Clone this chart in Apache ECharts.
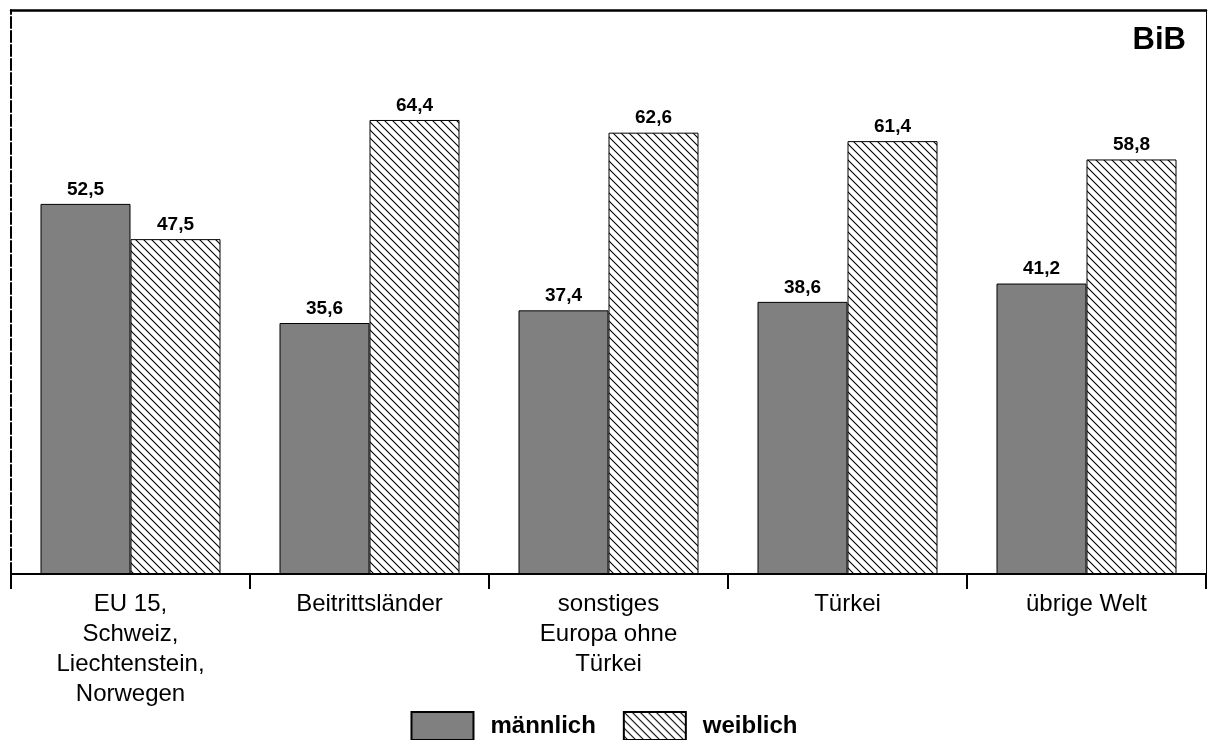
<!DOCTYPE html>
<html>
<head>
<meta charset="utf-8">
<script src="https://cdn.jsdelivr.net/npm/echarts@6/dist/echarts.min.js"></script>
<style>
  html, body { margin: 0; padding: 0; background: #fff; }
  #chart { width: 1208px; height: 740px; }
</style>
</head>
<body>
<div id="chart"></div>
<script>
// Herkunftsregionen und Anteile nach Geschlecht (in %)
const categories = [
  'EU 15,\nSchweiz,\nLiechtenstein,\nNorwegen',
  'Beitrittsländer',
  'sonstiges\nEuropa ohne\nTürkei',
  'Türkei',
  'übrige Welt'
];
const maleValues = [52.5, 35.6, 37.4, 38.6, 41.2];
const femaleValues = [47.5, 64.4, 62.6, 61.4, 58.8];
const seriesNames = ['männlich', 'weiblich'];

const FONT = 'Arial, "Liberation Sans", Helvetica, sans-serif';

// Diagonal hatch tile ("\" direction) for the female bars
function hatchPattern() {
  const s = 8;
  const c = document.createElement('canvas');
  c.width = s; c.height = s;
  const ctx = c.getContext('2d');
  ctx.fillStyle = '#fff';
  ctx.fillRect(0, 0, s, s);
  ctx.strokeStyle = '#000';
  ctx.lineWidth = 1.1;
  ctx.beginPath();
  for (const off of [-s, 0, s]) {
    ctx.moveTo(off - 1, -1);
    ctx.lineTo(off + s + 1, s + 1);
  }
  ctx.stroke();
  return { image: c, repeat: 'repeat' };
}

const chart = echarts.init(document.getElementById('chart'), null, { renderer: 'canvas' });

const valueLabel = {
  show: true,
  position: 'top',
  distance: 5,
  color: '#000',
  fontFamily: FONT,
  fontWeight: 'bold',
  fontSize: 19,
  formatter: p => String(p.value).replace('.', ',')
};

chart.setOption({
  animation: false,
  backgroundColor: '#fff',
  title: {
    text: 'BiB',
    right: 17,
    top: 20,
    textStyle: { fontFamily: FONT, fontWeight: 'bold', fontSize: 31, color: '#000' }
  },
  legend: {
    data: seriesNames,
    left: 'center',
    top: 711,
    padding: 0,
    icon: 'rect',
    itemWidth: 62,
    itemHeight: 28,
    itemGap: 27,
    textStyle: {
      fontFamily: FONT, fontWeight: 'bold', fontSize: 24, color: '#000',
      padding: [0, 0, 0, 12]
    }
  },
  grid: { left: 11, right: 2, top: 10, bottom: 166, containLabel: false },
  xAxis: [
    {
      type: 'category',
      data: categories,
      position: 'bottom',
      axisLine: { lineStyle: { color: '#000', width: 2 } },
      axisTick: { show: true, length: 15, lineStyle: { color: '#000', width: 2 } },
      axisLabel: {
        color: '#000', fontFamily: FONT, fontSize: 24, lineHeight: 30,
        margin: 15, interval: 0, align: 'center'
      }
    },
    {
      // top frame line
      type: 'category',
      data: categories,
      position: 'top',
      axisLine: { onZero: false, lineStyle: { color: '#000', width: 2.5 } },
      axisTick: { show: false },
      axisLabel: { show: false }
    }
  ],
  yAxis: [
    {
      type: 'value',
      min: 0,
      max: 80,
      interval: 10,
      position: 'left',
      axisLine: { show: true, onZero: false, lineStyle: { color: '#000', width: 2, type: [11, 3] } },
      axisTick: { show: false },
      axisLabel: { show: false },
      splitLine: { show: false }
    },
    {
      // right frame line
      type: 'value',
      min: 0,
      max: 80,
      position: 'right',
      axisLine: { show: true, onZero: false, lineStyle: { color: '#000', width: 1 } },
      axisTick: { show: false },
      axisLabel: { show: false },
      splitLine: { show: false }
    }
  ],
  series: [
    {
      name: seriesNames[0],
      type: 'bar',
      data: maleValues,
      barWidth: 90,
      barGap: '0%',
      itemStyle: { color: '#808080', borderColor: '#000', borderWidth: 1 },
      label: valueLabel
    },
    {
      name: seriesNames[1],
      type: 'bar',
      data: femaleValues,
      barWidth: 90,
      barGap: '0%',
      itemStyle: { color: hatchPattern(), borderColor: '#000', borderWidth: 1 },
      label: valueLabel
    }
  ]
});
</script>
</body>
</html>
